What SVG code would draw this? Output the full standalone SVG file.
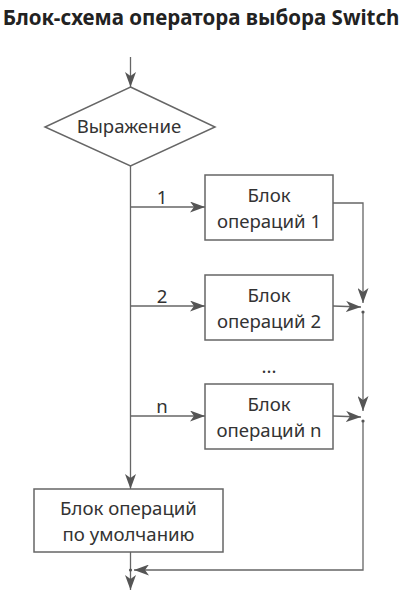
<svg xmlns="http://www.w3.org/2000/svg" width="403" height="599" viewBox="0 0 403 599">
<style>
.t{font-family:"Noto Sans","Open Sans","DejaVu Sans",sans-serif;font-size:18.6px;fill:#333;text-anchor:middle}
.title{font-family:"Noto Sans","Open Sans","DejaVu Sans",sans-serif;font-size:20.5px;font-weight:bold;fill:#222;text-anchor:middle}
.shape{fill:#fff;stroke:#666;stroke-width:1.5}
.ln{fill:none;stroke:#666;stroke-width:1.3}
.dot{fill:#555}
</style>
<defs>
<marker id="ah" markerUnits="userSpaceOnUse" viewBox="0 0 15 11" refX="15" refY="5.5" markerWidth="15" markerHeight="11" orient="auto">
<path d="M0,0 L15,5.5 L0,11 L4,5.5 Z" fill="#555"/>
</marker>
</defs>
<rect width="403" height="599" fill="#fff"/>
<text class="title" x="201" y="25">Блок-схема оператора выбора Switch</text>
<g id="connectors">
<line class="ln" x1="130.5" y1="57" x2="130.5" y2="87" marker-end="url(#ah)"/>
<line class="ln" x1="130.5" y1="166" x2="130.5" y2="489" marker-end="url(#ah)"/>
<line class="ln" x1="130.5" y1="207" x2="205" y2="207" marker-end="url(#ah)"/>
<line class="ln" x1="130.5" y1="306" x2="205" y2="306" marker-end="url(#ah)"/>
<line class="ln" x1="130.5" y1="416" x2="205" y2="416" marker-end="url(#ah)"/>
<polyline class="ln" points="333,203 363,203 363,303" marker-end="url(#ah)"/>
<line class="ln" x1="333" y1="306" x2="361" y2="307" marker-end="url(#ah)"/>
<line class="ln" x1="363" y1="312" x2="363" y2="411" marker-end="url(#ah)"/>
<line class="ln" x1="333" y1="416" x2="361" y2="417" marker-end="url(#ah)"/>
<polyline class="ln" points="363,421 363,570 134,570" marker-end="url(#ah)"/>
<line class="ln" x1="130.5" y1="552" x2="130.5" y2="590" marker-end="url(#ah)"/>
<circle class="dot" cx="363" cy="312" r="1.6"/>
<circle class="dot" cx="363" cy="421" r="1.6"/>
<circle class="dot" cx="130.5" cy="570" r="1.6"/>
<text class="t" x="162" y="204">1</text>
<text class="t" x="162" y="303">2</text>
<text class="t" x="162" y="413">n</text>
</g>
<g id="expr">
<polygon class="shape" points="130.5,87 215,127 130.5,166 45,127"/>
<text class="t" x="129" y="133">Выражение</text>
</g>
<g id="block1">
<rect class="shape" x="205" y="175" width="128" height="65"/>
<text class="t" x="269" y="202">Блок</text>
<text class="t" x="269" y="228">операций 1</text>
</g>
<g id="block2">
<rect class="shape" x="205" y="275" width="128" height="65"/>
<text class="t" x="269" y="302">Блок</text>
<text class="t" x="269" y="328">операций 2</text>
</g>
<text class="t" x="269" y="373">...</text>
<g id="blockn">
<rect class="shape" x="205" y="384" width="128" height="65"/>
<text class="t" x="269" y="411">Блок</text>
<text class="t" x="269" y="437">операций n</text>
</g>
<g id="default">
<rect class="shape" x="34" y="489" width="189" height="63"/>
<text class="t" x="128.5" y="515">Блок операций</text>
<text class="t" x="128.5" y="541">по умолчанию</text>
</g>
</svg>
